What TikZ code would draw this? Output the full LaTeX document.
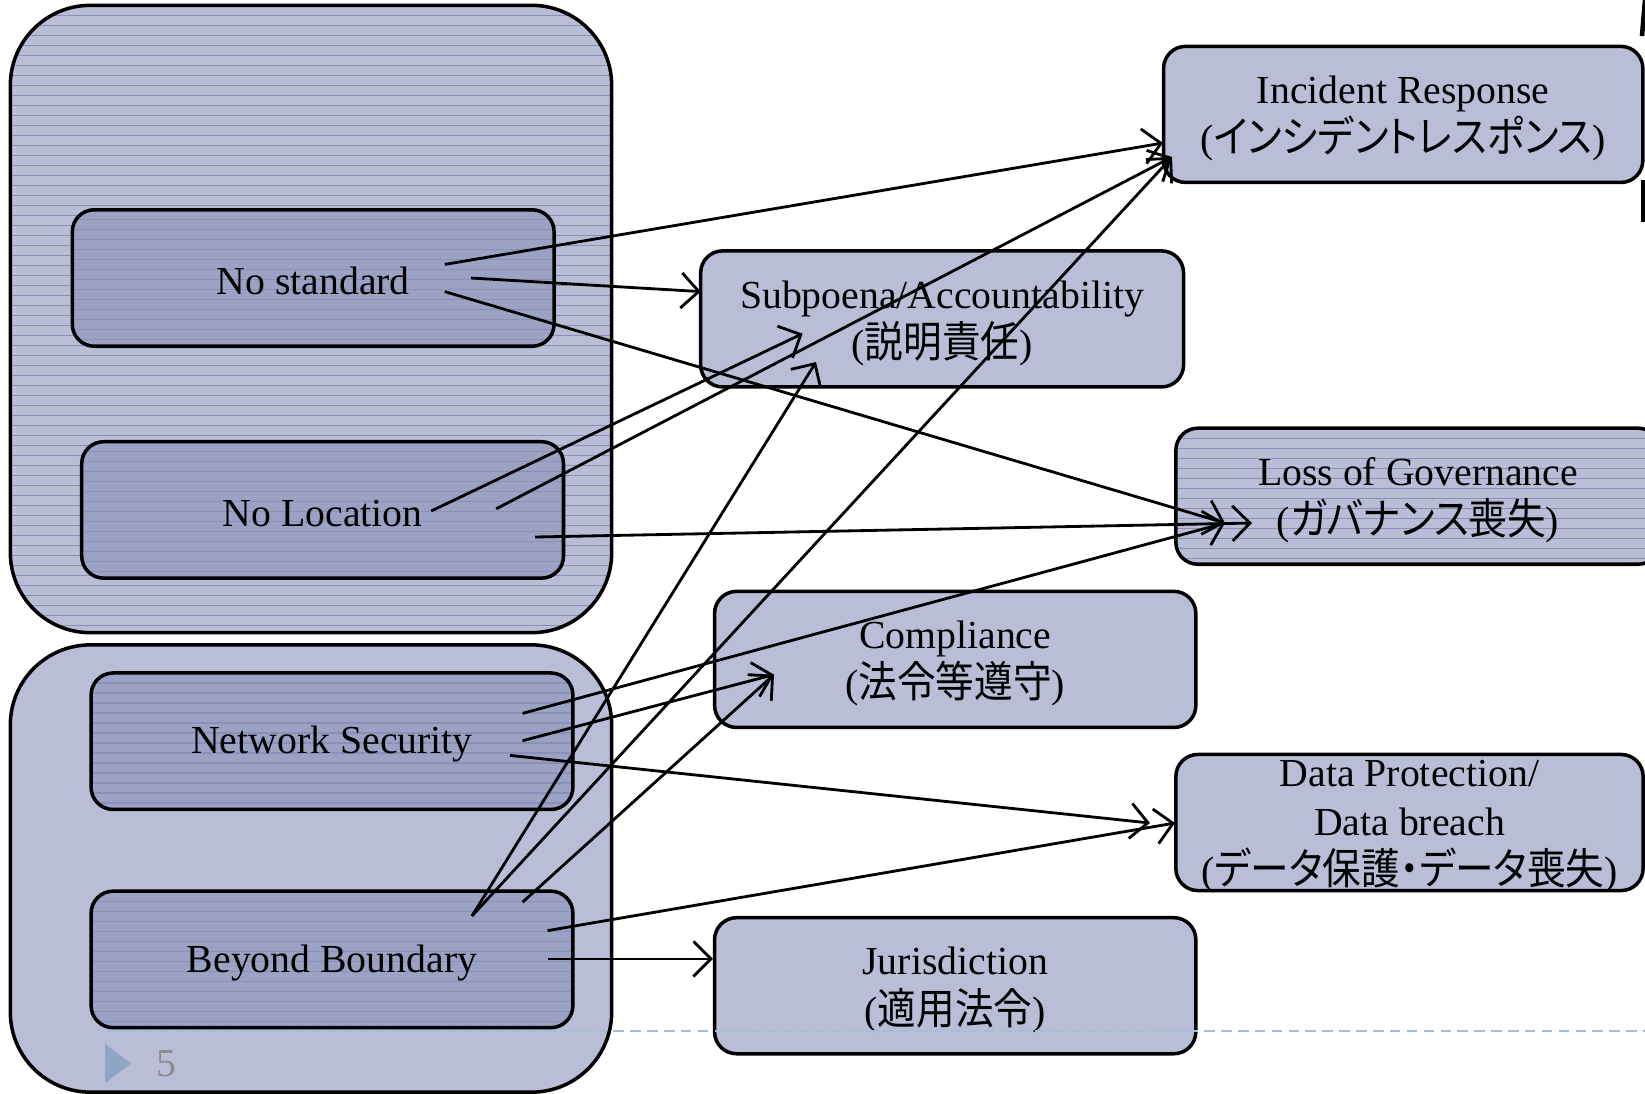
\documentclass[tikz,border=0pt]{standalone}
\usepackage{fontspec}
\setmainfont{Liberation Serif}
\newfontfamily\jpfont[RawFeature=+palt, FakeStretch=0.9]{Noto Sans CJK JP}
\newcommand{\jp}[1]{{\jpfont\fontsize{12.2}{14}\selectfont #1}}
\usepackage{tikz}
\usetikzlibrary{arrows.meta}
\definecolor{grpFill}{HTML}{B9BED6}
\definecolor{innerFill}{HTML}{9CA2C4}
\definecolor{boxFill}{HTML}{B9BED6}
\definecolor{stripeCol}{HTML}{8A90B7}
\definecolor{dashCol}{HTML}{A6BCD8}
\definecolor{pageCol}{HTML}{8FA5C6}

\tikzset{
    stripes/.style={path picture={
        \foreach \k in {0,...,65}
            \draw[stripeCol, line width=0.35pt]
                ([yshift=-\k*0.1cm]path picture bounding box.north west) --
                ([yshift=-\k*0.1cm]path picture bounding box.north east);}},
    grp/.style={draw=black, line width=1pt, fill=grpFill, rounded corners=0.8cm,
        minimum width=6.01cm, inner sep=0pt},
    causebox/.style={draw=black, line width=1pt, fill=innerFill, rounded corners=0.22cm,
        minimum width=4.815cm, minimum height=1.364cm, inner sep=0pt, align=center,
        font=\fontsize{11.3}{13}\selectfont, text height=9.6pt},
    riskbox/.style={draw=black, line width=1pt, fill=boxFill, rounded corners=0.22cm,
        minimum width=4.81cm, minimum height=1.36cm, inner sep=0pt, align=center,
        font=\fontsize{11.3}{14}\selectfont, text depth=-1pt},
    conn/.style={-{Straight Barb[length=5pt,width=10pt]}, line width=0.8pt}
}

\begin{document}
\begin{tikzpicture}[x=0.01cm, y=-0.01cm]
    \useasboundingbox (0,0) rectangle (1645,1093);

    % draw group boxes
    \node[grp, stripes, minimum height=6.27cm] (topgrp) at (311,319) {};
    \node[grp, minimum height=4.47cm] (lowgrp) at (311,868.5) {};

    % draw risk nodes
    \node[riskbox, minimum width=4.79cm] (incident) at (1403.2,114.4) {Incident Response\\(\jp{インシデントレスポンス})};
    \node[riskbox, minimum width=4.826cm] (subpoena) at (942.1,318.9) {Subpoena/Accountability\\(\jp{説明責任})};
    \node[riskbox, stripes, minimum width=4.84cm] (govern) at (1418,496.2) {Loss of Governance\\(\jp{ガバナンス喪失})};
    \node[riskbox] (comply) at (955.2,659.4) {Compliance\\(\jp{法令等遵守})};
    \node[riskbox, minimum width=4.67cm] (dataprot) at (1409.5,822.5) {Data Protection/\\Data breach\\(\jp{データ保護・データ喪失})};
    \node[riskbox] (jurisd) at (955.2,985.7) {Jurisdiction\\(\jp{適用法令})};

    % slide footer line
    \draw[dashCol, line width=0.8pt, dash pattern=on 3pt off 1.8pt] (107,1031) -- (1645,1031);

    % draw cause nodes
    \node[causebox, stripes] (nostd) at (313.2,278) {No standard};
    \node[causebox, stripes] (noloc) at (322.6,509.9) {No Location};
    \node[causebox, stripes] (netsec) at (332,741.2) {Network Security};
    \node[causebox, stripes] (beyond) at (332,959.4) {Beyond Boundary};

    % connector ends
    \coordinate (nostdA) at (444.8,264.4);
    \coordinate (nostdB) at (471,278);
    \coordinate (nostdC) at (444.8,291.6);
    \coordinate (nolocA) at (431.2,511);
    \coordinate (nolocB) at (496.2,508.8);
    \coordinate (nolocC) at (535,537);
    \coordinate (netsecA) at (522.5,713.4);
    \coordinate (netsecB) at (522.5,740.7);
    \coordinate (netsecC) at (510,755.4);
    \coordinate (beyondA) at (472,915.9);
    \coordinate (beyondB) at (522.5,902.2);
    \coordinate (beyondC) at (547.6,930.6);
    \coordinate (beyondD) at (547.6,958.9);

    \coordinate (incidentA) at (1163,143);
    \coordinate (incidentB) at (1172,157);
    \coordinate (subpoenaA) at (700.8,291.6);
    \coordinate (subpoenaB) at (802.6,333.6);
    \coordinate (subpoenaC) at (816,362);
    \coordinate (governA) at (1225,523);
    \coordinate (governB) at (1252,523);
    \coordinate (complyA) at (774,674.6);
    \coordinate (dataprotA) at (1150,823);
    \coordinate (dataprotB) at (1175,823);
    \coordinate (jurisdA) at (713,958.9);

    % draw connectors
    \draw[conn] (nostdA) -- (incidentA);
    \draw[conn] (nostdB) -- (subpoenaA);
    \draw[conn] (nostdC) -- (governA);
    \draw[conn] (nolocA) -- (subpoenaB);
    \draw[conn] (nolocB) -- (incidentB);
    \draw[conn] (nolocC) -- (governB);
    \draw[conn] (netsecA) -- (governA);
    \draw[conn] (netsecB) -- (complyA);
    \draw[conn] (netsecC) -- (dataprotA);
    \draw[conn] (beyondA) -- (subpoenaC);
    \draw[conn] (beyondA) -- (incidentB);
    \draw[conn] (beyondB) -- (complyA);
    \draw[conn] (beyondC) -- (dataprotB);
    \draw[conn] (beyondD) -- (jurisdA);

    % page number
    \fill[pageCol] (105,1044) -- (131,1063.5) -- (105,1083) -- cycle;
    \node[text=black!45, font=\fontsize{11.3}{13}\selectfont] (pagenum) at (166,1064) {5};

    % cut-off marks at the right edge
    \draw[line width=1.3pt] (1645,0) -- (1642,36);
    \draw[line width=1.3pt] (1643,180) -- (1643,222);
\end{tikzpicture}
\end{document}
